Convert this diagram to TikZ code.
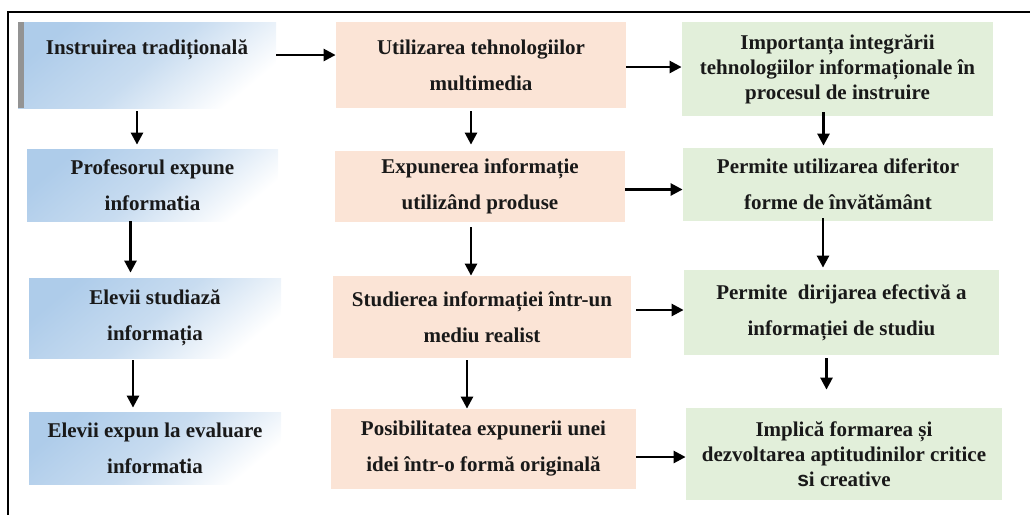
\documentclass[tikz,border=0pt]{standalone}
\usepackage{fontspec}
\setmainfont{Liberation Serif}
\newfontfamily\altglyph{Liberation Sans}
\usepackage{tikz}
\usetikzlibrary{arrows.meta}

\definecolor{lblue}{HTML}{AECCEA}
\definecolor{mblue}{HTML}{C8DCF0}
\definecolor{salm}{HTML}{FBE4D6}
\definecolor{lgreen}{HTML}{E2EFDA}

\begin{document}
\begin{tikzpicture}[x=0.5pt,y=-0.5pt,
	box/.style={inner sep=0pt, align=center, text=black!90, font=\bfseries\fontsize{10.5}{18}\selectfont},
	tall/.style={font=\bfseries\fontsize{10.5}{12.5}\selectfont},
	bluebox/.style={box, top color=lblue, bottom color=white, middle color=mblue, shading angle=40},
	salmbox/.style={box, fill=salm},
	greenbox/.style={box, fill=lgreen},
	arr/.style={line width=1.3pt, -{Triangle[length=6pt,width=6pt]}}
]

	\useasboundingbox (0,0) rectangle (1030,515);
	\draw[line width=1pt] (8,515) -- (8,12) -- (1030,12);

	\node (trad) at (147,65) [bluebox, minimum width=129pt, minimum height=43pt] {Instruirea tradițională\\ \mbox{}};
	\node (prof) at (152.5,185) [bluebox, minimum width=125.5pt, minimum height=36pt] {Profesorul expune\\ informa{\altglyph t}ia};
	\node (studiu) at (155,318) [bluebox, minimum width=126pt, minimum height=40pt] {Elevii studiază\\ informația};
	\node (eval) at (155,448) [bluebox, minimum width=126pt, minimum height=36pt] {Elevii expun la evaluare\\ informa{\altglyph t}ia};
	\fill[gray!85] (trad.north west) rectangle ([xshift=3pt]trad.south west);

	\node (multi) at (481,65) [salmbox, minimum width=145pt, minimum height=43pt] {Utilizarea tehnologiilor\\ multimedia};
	\node (expun) at (480,186.5) [salmbox, minimum width=145pt, minimum height=35.5pt] {Expunerea informație\\ utilizând produse};
	\node (mediu) at (482,317) [salmbox, minimum width=149pt, minimum height=41pt] {Studierea informației într-un\\ mediu realist};
	\node (posib) at (483.5,449) [salmbox, minimum width=152.5pt, minimum height=40pt] {Posibilitatea expunerii unei\\ idei într-o formă originală};

	\node (import) at (837.5,69) [greenbox, tall, minimum width=155.5pt, minimum height=47pt] {Importanța integrării\\ tehnologiilor informaționale în\\ procesul de instruire};
	\node (forme) at (838,184.5) [greenbox, minimum width=155pt, minimum height=36.5pt] {Permite utilizarea diferitor\\ forme de învă{\altglyph t}ământ};
	\node (dirij) at (841.5,312.5) [greenbox, minimum width=157.5pt, minimum height=42.5pt] {Permite \ dirijarea efectivă a\\ informației de studiu};
	\node (implic) at (844,454) [greenbox, tall, minimum width=158pt, minimum height=46pt] {Implică formarea și\\ dezvoltarea aptitudinilor critice\\ {\altglyph s}i creative};

	\draw[arr] ([yshift=5pt]trad.east) -- ([yshift=5pt]trad.east -| multi.west);
	\draw[arr] ([yshift=-1pt]multi.east) -- ([yshift=-1pt]multi.east -| import.west);
	\draw[arr] ([yshift=-1.5pt]expun.east) -- ([yshift=-1.5pt]expun.east -| forme.west);
	\draw[arr, shorten <=2.5pt] ([yshift=3.5pt]mediu.east) -- ([yshift=3.5pt]mediu.east -| dirij.west);
	\draw[arr] ([yshift=-4pt]posib.east) -- ([yshift=-4pt]posib.east -| implic.west);

	\draw[arr, shorten <=1.5pt, shorten >=2pt] ([xshift=-5pt]trad.south) -- ([xshift=-5pt]trad.south |- prof.north);
	\draw[arr, shorten >=2.5pt] ([xshift=-11pt]prof.south) -- ([xshift=-11pt]prof.south |- studiu.north);
	\draw[arr, shorten <=1pt, shorten >=2pt] ([xshift=-11pt]studiu.south) -- ([xshift=-11pt]studiu.south |- eval.north);

	\draw[arr, shorten <=1.5pt, shorten >=3pt] ([xshift=-5pt]multi.south) -- ([xshift=-5pt]multi.south |- expun.north);
	\draw[arr, shorten <=2.5pt] ([xshift=-4.5pt]expun.south) -- ([xshift=-4.5pt]expun.south |- mediu.north);
	\draw[arr, shorten <=1pt] ([xshift=-7.5pt]mediu.south) -- ([xshift=-7.5pt]mediu.south |- posib.north);

	\draw[arr, shorten <=-2pt, shorten >=1pt] ([xshift=-7pt]import.south) -- ([xshift=-7pt]import.south |- forme.north);
	\draw[arr, shorten <=-1.5pt, shorten >=1pt] ([xshift=-7.5pt]forme.south) -- ([xshift=-7.5pt]forme.south |- dirij.north);
	\draw[arr, shorten <=1.5pt, shorten >=9pt] ([xshift=-7.5pt]dirij.south) -- ([xshift=-7.5pt]dirij.south |- implic.north);

\end{tikzpicture}
\end{document}
